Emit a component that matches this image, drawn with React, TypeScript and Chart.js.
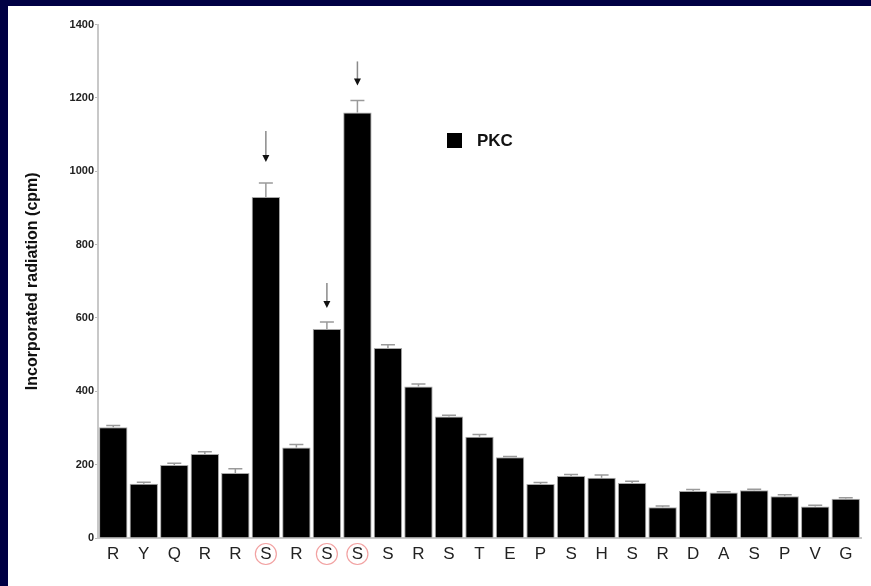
import React, { useEffect, useRef } from "react";
import { Chart, registerables } from "chart.js";

Chart.register(...registerables);

const residues = ["R","Y","Q","R","R","S","R","S","S","S","R","S","T","E","P","S","H","S","R","D","A","S","P","V","G"];
const pkcValues = [302,148,199,229,177,930,247,570,1160,518,413,331,276,220,147,169,164,150,84,128,124,130,114,86,107];
const pkcErrors = [5,4,5,6,12,38,8,19,33,9,7,4,6,2,4,4,8,5,3,4,2,3,4,3,3];
const markedSites = [5, 7, 8];
const arrowGaps = [21, 14, 15];
const arrowLengths = [31, 25, 24];
const seriesName = "PKC";
const yTitle = "Incorporated radiation (cpm)";
const yMax = 1400;
const yStep = 200;

const FONT = "'Liberation Sans', Arial, Helvetica, sans-serif";

const overlay = {
  id: "overlay",
  afterDatasetsDraw(chart: any) {
    const ctx = chart.ctx;
    const meta = chart.getDatasetMeta(0);
    const ys = chart.scales.y;
    const xs = chart.scales.x;
    ctx.save();
    // error bars
    ctx.strokeStyle = "#9a9a9a";
    ctx.lineWidth = 1.5;
    const caps: number[] = [];
    meta.data.forEach((bar: any, i: number) => {
      const top = ys.getPixelForValue(pkcValues[i] + pkcErrors[i]);
      caps[i] = top;
      ctx.beginPath();
      ctx.moveTo(bar.x, bar.y);
      ctx.lineTo(bar.x, top);
      ctx.moveTo(bar.x - 7, top);
      ctx.lineTo(bar.x + 7, top);
      ctx.stroke();
    });
    // arrows
    markedSites.forEach((i, k) => {
      const bx = meta.data[i].x;
      const tip = caps[i] - arrowGaps[k];
      ctx.strokeStyle = "#8a8a8a";
      ctx.lineWidth = 1.5;
      ctx.beginPath();
      ctx.moveTo(bx, tip - arrowLengths[k]);
      ctx.lineTo(bx, tip - 5);
      ctx.stroke();
      ctx.fillStyle = "#111";
      ctx.beginPath();
      ctx.moveTo(bx - 3.5, tip - 7);
      ctx.lineTo(bx + 3.5, tip - 7);
      ctx.lineTo(bx, tip);
      ctx.closePath();
      ctx.fill();
    });
    // circles around marked residues
    ctx.strokeStyle = "#f2a2a2";
    ctx.lineWidth = 1.2;
    markedSites.forEach((i) => {
      const cx = xs.getPixelForValue(i);
      const cy = xs.top + 16;
      ctx.beginPath();
      ctx.arc(cx, cy, 10.5, 0, Math.PI * 2);
      ctx.stroke();
    });
    // legend
    ctx.fillStyle = "#000";
    ctx.fillRect(439, 127, 15, 15);
    ctx.font = `bold 17px ${FONT}`;
    ctx.fillStyle = "#111";
    ctx.textBaseline = "middle";
    ctx.textAlign = "left";
    ctx.fillText(seriesName, 469, 135);
    ctx.restore();
  },
};

export default function App() {
  const ref = useRef<HTMLCanvasElement | null>(null);
  useEffect(() => {
    if (!ref.current) return;
    const chart = new Chart(ref.current, {
      type: "bar",
      data: {
        labels: residues,
        datasets: [
          {
            label: seriesName,
            data: pkcValues,
            backgroundColor: "#000",
            borderColor: "#a8a8a8",
            borderWidth: 1,
            categoryPercentage: 1,
            barPercentage: 0.93,
          },
        ],
      },
      options: {
        responsive: false,
        animation: false,
        devicePixelRatio: 1,
        layout: { padding: { top: 18.5, right: 10, left: 0, bottom: 0 } },
        plugins: { legend: { display: false }, tooltip: { enabled: false } },
        scales: {
          x: {
            grid: { display: false, drawTicks: false },
            border: { display: true, color: "#c8c8c8", width: 2 },
            ticks: { color: "#222", font: { family: FONT, size: 17 }, padding: 6, maxRotation: 0, autoSkip: false },
            afterFit: (s: any) => { s.height = 48; },
          },
          y: {
            min: 0,
            max: yMax,
            ticks: {
              stepSize: yStep,
              color: "#222",
              font: { family: FONT, size: 11, weight: "bold" },
              padding: 1,
              callback: (v: any) => String(v),
            },
            grid: { display: true, drawOnChartArea: false, drawTicks: true, tickLength: 3, color: "#b8b8b8" },
            border: { display: true, color: "#c8c8c8", width: 2 },
            title: { display: true, text: yTitle, color: "#111", font: { family: FONT, size: 16, weight: "bold" }, padding: { top: 15, bottom: 4 } },
            afterFit: (s: any) => { s.width = 90; },
          },
        },
      },
      plugins: [overlay],
    });
    return () => chart.destroy();
  }, []);
  return (
    <div style={{ position: "fixed", left: 0, top: 0, width: 871, height: 586, background: "#000044", overflow: "hidden" }}>
      <canvas ref={ref} width={863} height={580} style={{ position: "absolute", left: 8, top: 6, width: 863, height: 580, background: "#fff" }} />
    </div>
  );
}
